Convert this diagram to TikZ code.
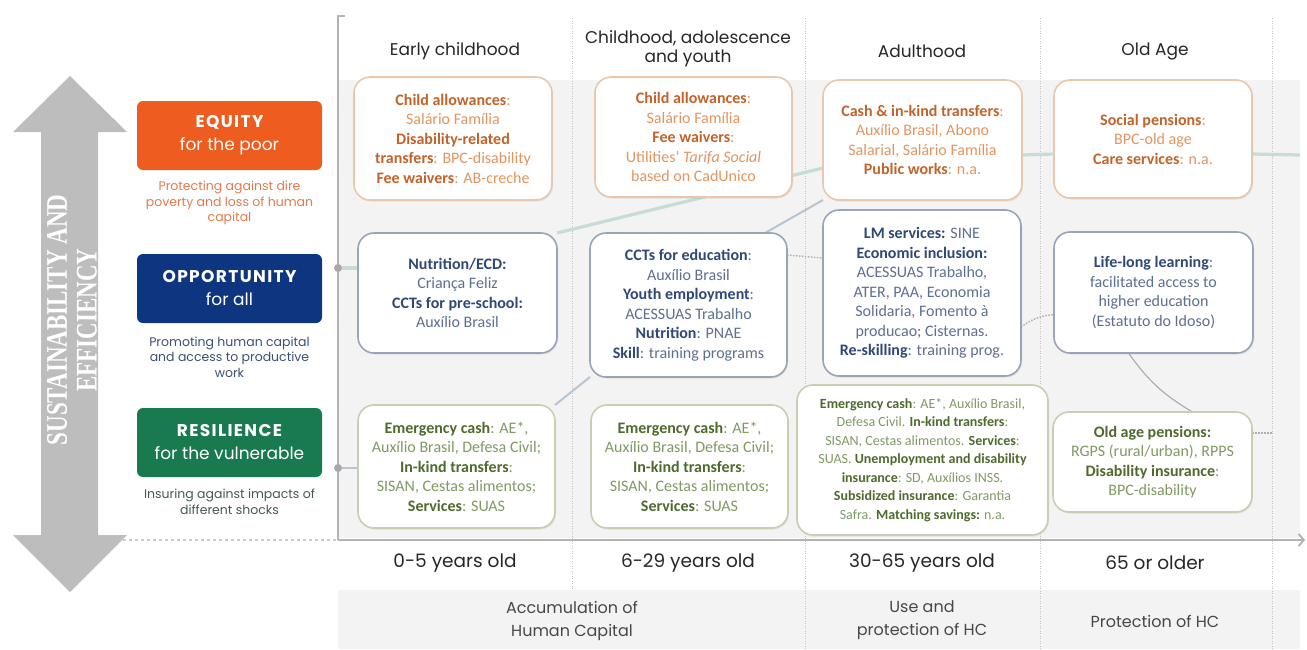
\documentclass[tikz,border=0pt]{standalone}
\usepackage{fontspec}
\setmainfont{Carlito}
\newfontfamily\popfont{Poppins}
\newfontfamily\popwide{Poppins}[LetterSpace=8]
\newfontfamily\titlefont{Liberation Serif}
\usetikzlibrary{arrows.meta,shadows,calc}

% palette
\definecolor{eqFill}{HTML}{EE5C1F}
\definecolor{opFill}{HTML}{0E3580}
\definecolor{rsFill}{HTML}{187A4E}
\definecolor{eqDesc}{HTML}{E27A4C}
\definecolor{opDesc}{HTML}{3C4F73}
\definecolor{rsDesc}{HTML}{43594F}
\definecolor{eqKeyC}{HTML}{C2632A}
\definecolor{eqTxtC}{HTML}{E3955F}
\definecolor{opKeyC}{HTML}{2E4877}
\definecolor{opTxtC}{HTML}{5D6F92}
\definecolor{rsKeyC}{HTML}{4E6A2C}
\definecolor{rsTxtC}{HTML}{7F9A63}
\definecolor{eqLine}{HTML}{EBC6A8}
\definecolor{opLine}{HTML}{9AA4B9}
\definecolor{rsLine}{HTML}{C6CFB2}
\definecolor{panelC}{HTML}{F3F3F3}
\definecolor{bigArrow}{HTML}{BDBDBD}
\definecolor{axisC}{HTML}{B3B3B3}
\definecolor{divC}{HTML}{C4C4C4}
\definecolor{headC}{HTML}{262626}
\definecolor{tealC}{HTML}{C6DCD5}
\definecolor{slateC}{HTML}{B8C4CF}
\definecolor{greyC}{HTML}{AEAEAE}
\definecolor{dotC}{HTML}{A8A8A8}

\newcommand\eqkey[1]{{\bfseries\color{eqKeyC}#1}}
\newcommand\opkey[1]{{\bfseries\color{opKeyC}#1}}
\newcommand\rskey[1]{{\bfseries\color{rsKeyC}#1}}

\pgfdeclarelayer{bg}
\pgfdeclarelayer{conn}
\pgfsetlayers{bg,conn,main}

\begin{document}
\begin{tikzpicture}[x=1pt,y=-1pt,
  every node/.style={inner sep=0pt,outer sep=0pt},
  lvlbox/.style={rounded corners=6pt,minimum width=185pt,minimum height=69pt,
    text=white,align=center,font=\popfont\fontsize{17}{23}\selectfont},
  desc/.style={align=center,font=\popfont\fontsize{12.5}{15.5}\selectfont},
  progbox/.style={rounded corners=16pt,fill=white,line width=1.6pt,align=center,
    font=\fontsize{16}{19.5}\selectfont,
    drop shadow={shadow xshift=1pt,shadow yshift=-1.5pt,opacity=0.16}},
  eqbox/.style={progbox,draw=eqLine,text=eqTxtC},
  opbox/.style={progbox,draw=opLine,text=opTxtC},
  rsbox/.style={progbox,draw=rsLine,text=rsTxtC},
  header/.style={font=\popfont\fontsize{17}{19.5}\selectfont,text=headC,align=center},
  agelab/.style={font=\popfont\fontsize{18.5}{20}\selectfont,text=headC},
  phase/.style={font=\popfont\fontsize{16}{23}\selectfont,text=headC!85,align=center},
  divider/.style={draw=divC,line width=0.9pt,dash pattern=on 1pt off 1.5pt},
  axisdot/.style={circle,fill=dotC,minimum size=8pt},
  tealline/.style={draw=tealC,line width=3.2pt},
  slateline/.style={draw=slateC,line width=2pt},
  greyline/.style={draw=greyC,line width=1.4pt,dash pattern=on 1.5pt off 1.5pt},
  greysolid/.style={draw=greyC,line width=1.2pt}]
\useasboundingbox (0,0) rectangle (1307,649);

% shaded panels and column dividers
\begin{pgfonlayer}{bg}
  \fill[panelC] (338,80) rectangle (1300,538);
  \fill[panelC] (338,590) rectangle (1300,649);
  \draw[divider] (572,18) -- (572,590);
  \draw[divider] (805,18) -- (805,649);
  \draw[divider] (1040,18) -- (1040,649);
  \draw[divider] (1272,18) -- (1272,649);
\end{pgfonlayer}

% axes
\draw[axisC,line width=2pt] (338,540) -- (338,16) -- (345,16);
\draw[axisC!70,line width=1.2pt,dashed] (123,540) -- (338,540);
\draw[axisC,line width=2pt,-{Straight Barb[length=5pt,width=12pt]}] (338,540) -- (1305,540);

% vertical double arrow with its caption
\fill[bigArrow] (70,76) -- (127,132) -- (98,132) -- (98,535) -- (127,535) -- (70,592)
  -- (13,535) -- (41,535) -- (41,132) -- (13,132) -- cycle;
\node[rotate=90,yscale=1.3,text=white,align=center,
  font=\titlefont\bfseries\fontsize{23}{23}\selectfont] (sust) at (72,320)
  {SUSTAINABILITY AND\\EFFICIENCY};

% objectives
\node[lvlbox,fill=eqFill] (eq) at (229.5,135.5) {{\popwide\bfseries EQUITY}\\for the poor};
\node[desc,text=eqDesc] (eqd) at (229.5,203) {Protecting against dire\\poverty and loss of human\\capital};
\node[lvlbox,fill=opFill] (op) at (229.5,288.5) {{\popwide\bfseries OPPORTUNITY}\\for all};
\node[desc,text=opDesc] (opd) at (229.5,357) {Promoting human capital\\and access to productive\\work};
\node[lvlbox,fill=rsFill] (rs) at (229.5,442.5) {{\popwide\bfseries RESILIENCE}\\for the vulnerable};
\node[desc,text=rsDesc] (rsd) at (229.5,502) {Insuring against impacts of\\different shocks};

% life-cycle headers
\node[header] (h1) at (455,51) {Early childhood};
\node[header] (h2) at (688,48.5) {Childhood, adolescence\\and youth};
\node[header] (h3) at (922,51) {Adulthood};
\node[header] (h4) at (1155,51) {Old Age};

% ages and phases
\node[agelab] (a1) at (455,563) {0-5 years old};
\node[agelab] (a2) at (688,563) {6-29 years old};
\node[agelab] (a3) at (922,563) {30-65 years old};
\node[agelab] (a4) at (1155,563) {65 or older};
\node[phase] (p1) at (572,620.5) {Accumulation of\\Human Capital};
\node[phase] (p2) at (922,620.5) {Use and\\protection of HC};
\node[phase] (p3) at (1155,621) {Protection of HC};

% equity programmes
\node[eqbox,minimum width=198pt,minimum height=123pt] (e1) at (453,138.5)
  {\eqkey{Child allowances}:\\Salário Família\\\eqkey{Disability-related}\\\eqkey{transfers}: BPC-disability\\\eqkey{Fee waivers}: AB-creche};
\node[eqbox,minimum width=197pt,minimum height=120pt] (e2) at (693.5,137)
  {\eqkey{Child allowances}:\\Salário Família\\\eqkey{Fee waivers}:\\Utilities’ \textit{Tarifa Social}\\based on CadUnico};
\node[eqbox,minimum width=199pt,minimum height=120pt] (e3) at (922.5,140)
  {\eqkey{Cash \& in-kind transfers}:\\Auxílio Brasil, Abono\\Salarial, Salário Família\\\eqkey{Public works}: n.a.};
\node[eqbox,minimum width=198pt,minimum height=118pt] (e4) at (1153,139)
  {\eqkey{Social pensions}:\\BPC-old age\\\eqkey{Care services}: n.a.};

% opportunity programmes
\node[opbox,minimum width=199pt,minimum height=120pt] (o1) at (457.5,293)
  {\opkey{Nutrition/ECD:}\\Criança Feliz\\\opkey{CCTs for pre-school:}\\Auxílio Brasil};
\node[opbox,minimum width=197pt,minimum height=144pt] (o2) at (688.5,305)
  {\opkey{CCTs for education}:\\Auxílio Brasil\\\opkey{Youth employment}:\\ACESSUAS Trabalho\\\opkey{Nutrition}: PNAE\\\opkey{Skill}: training programs};
\node[opbox,minimum width=198pt,minimum height=166pt] (o3) at (922,293)
  {\opkey{LM services:} SINE\\\opkey{Economic inclusion:}\\ACESSUAS Trabalho,\\ATER, PAA, Economia\\Solidaria, Fomento à\\producao; Cisternas.\\\opkey{Re-skilling}: training prog.};
\node[opbox,minimum width=199pt,minimum height=121pt] (o4) at (1153.5,292.5)
  {\opkey{Life-long learning}:\\facilitated access to\\higher education\\(Estatuto do Idoso)};

% resilience programmes
\node[rsbox,minimum width=197pt,minimum height=123pt] (r1) at (456.5,466.5)
  {\rskey{Emergency cash}: AE*,\\Auxílio Brasil, Defesa Civil;\\\rskey{In-kind transfers}:\\SISAN, Cestas alimentos;\\\rskey{Services}: SUAS};
\node[rsbox,minimum width=197pt,minimum height=123pt] (r2) at (689.5,466.5)
  {\rskey{Emergency cash}: AE*,\\Auxílio Brasil, Defesa Civil;\\\rskey{In-kind transfers}:\\SISAN, Cestas alimentos;\\\rskey{Services}: SUAS};
\node[rsbox,minimum width=251pt,minimum height=150pt,font=\fontsize{14}{18.5}\selectfont] (r3) at (922.5,460)
  {\rskey{Emergency cash}: AE*, Auxílio Brasil,\\Defesa Civil. \rskey{In-kind transfers}:\\SISAN, Cestas alimentos. \rskey{Services}:\\SUAS. \rskey{Unemployment and disability}\\\rskey{insurance}: SD, Auxílios INSS.\\\rskey{Subsidized insurance}: Garantia\\Safra. \rskey{Matching savings:} n.a.};
\node[rsbox,minimum width=199pt,minimum height=100pt] (r4) at (1152.5,462)
  {\rskey{Old age pensions:}\\RGPS (rural/urban), RPPS\\\rskey{Disability insurance}:\\BPC-disability};

% anchor points on the vertical axis and loose line ends
\node[axisdot] (dotO) at (338,268) {};
\node[axisdot] (dotR) at (338,468) {};
\coordinate (tealEnd) at (1300,155);
\coordinate (greyEnd) at (1273,433);

% trajectories running behind the programme boxes
\begin{pgfonlayer}{conn}
  \draw[tealline] (dotO) -- (dotO -| o1.west);
  \draw[tealline] (o1.north east) -- ([yshift=-28pt]e3.west);
  \draw[tealline] ([yshift=-15pt]e3.east) -- ([yshift=-15pt]e4.west);
  \draw[tealline] ([yshift=-15pt]e4.east) -- (tealEnd);
  \draw[slateline] (dotR) -- (dotR -| r1.west);
  \draw[slateline] (r1.north east) -- (o2.south west);
  \draw[slateline] ([xshift=-22pt]o2.north east) -- (e3.south west);
  \draw[greyline] ([yshift=50pt]o2.east) -- ([yshift=35pt]o3.west);
  \draw[greyline] ([yshift=-34pt]o3.east) to[bend left=15] ([yshift=-22pt]o4.west);
  \draw[greysolid] ([xshift=-25pt]o4.south) to[bend right=12] ([xshift=40pt]r4.north);
  \draw[greyline] ([yshift=29pt]r4.east) -- (greyEnd);
\end{pgfonlayer}
\end{tikzpicture}
\end{document}
